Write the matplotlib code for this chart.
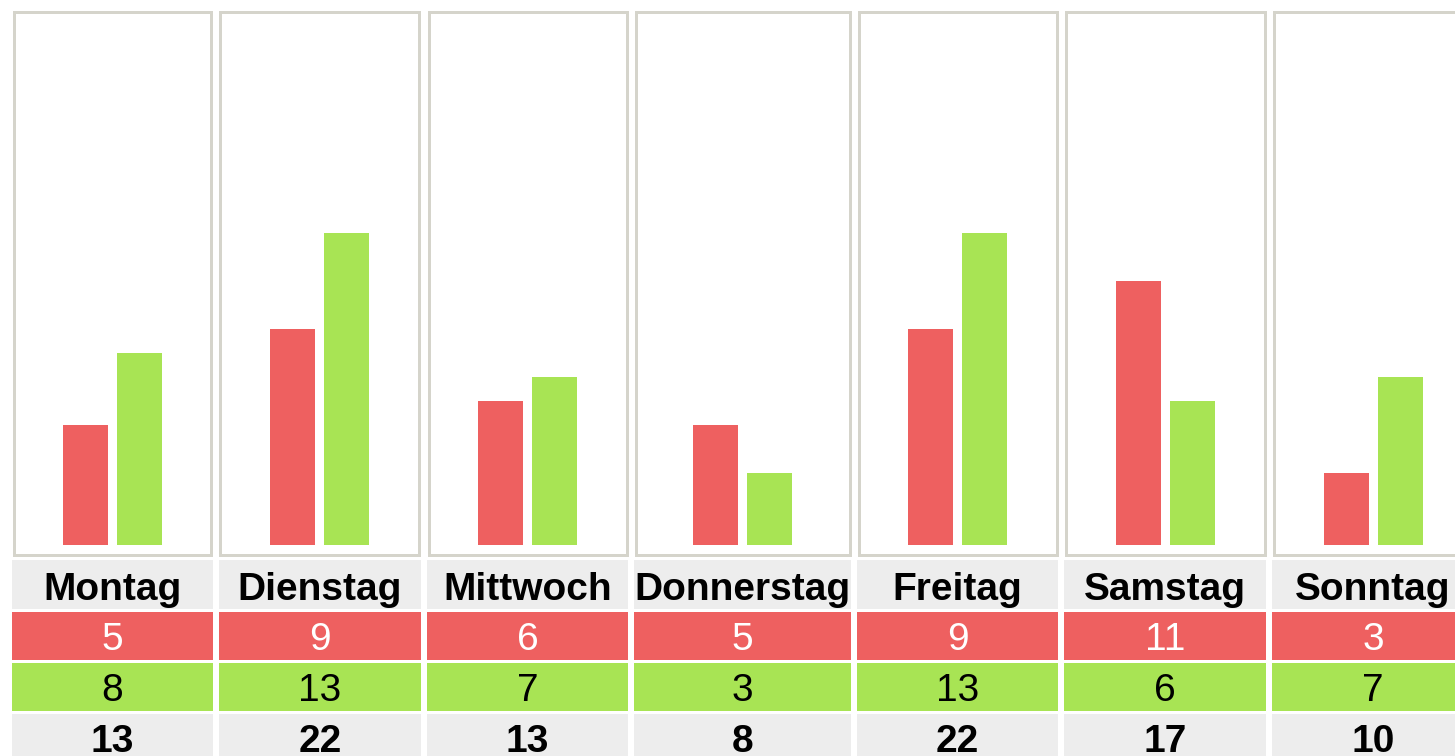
#!/usr/bin/env python3
"""Weekday comparison: small bar panels with a value table below."""

import matplotlib
matplotlib.use("Agg")
import matplotlib.pyplot as plt

# data
days = ["Montag", "Dienstag", "Mittwoch", "Donnerstag", "Freitag", "Samstag", "Sonntag"]
red_values = [5, 9, 6, 5, 9, 11, 3]
green_values = [8, 13, 7, 3, 13, 6, 7]
totals = [13, 22, 13, 8, 22, 17, 10]

# layout (pixels, measured from top-left)
W, H = 1455, 756
col_edges = [(12, 213), (219, 421), (427, 628), (634, 851),
             (857, 1058), (1064, 1266), (1272, 1474)]
panel_top, panel_bottom = 10, 556
border_px = 3
zero_y = 545          # pixel row of the bar baseline
px_per_unit = 24
bar_w, bar_off = 45, 27
# (top, bottom, text baseline) for each table row
rows = [(560, 609, 600), (612, 660, 650), (663, 711, 701), (714, 762, 752)]

RED = "#ee6060"
GREEN = "#a8e454"
GREY = "#ededed"
BORDER = "#d5d4cb"

plt.rcParams["font.family"] = ["Liberation Sans", "DejaVu Sans"]


def px_rect(x0, y0, x1, y1):
    return [x0 / W, 1 - y1 / H, (x1 - x0) / W, (y1 - y0) / H]


fig = plt.figure(figsize=(W / 100, H / 100), dpi=100)
fig.patch.set_facecolor("white")

half = border_px / 2
for i, (x0, x1) in enumerate(col_edges):
    # bar panel
    ax = fig.add_axes(px_rect(x0 + half, panel_top + half, x1 - half, panel_bottom - half))
    w = x1 - x0 - border_px
    ax.bar([-bar_off, bar_off], [red_values[i], green_values[i]],
           width=bar_w, color=[RED, GREEN], linewidth=0)
    ax.set_xlim(-w / 2, w / 2)
    bottom_gap = (panel_bottom - half) - zero_y
    top_gap = zero_y - (panel_top + half)
    ax.set_ylim(-bottom_gap / px_per_unit, top_gap / px_per_unit)
    ax.set_xticks([])
    ax.set_yticks([])
    for sp in ax.spines.values():
        sp.set_color(BORDER)
        sp.set_linewidth(border_px * 72 / 100)

    # table cells
    cells = [
        (days[i], GREY, "black", "bold"),
        (str(red_values[i]), RED, "white", "normal"),
        (str(green_values[i]), GREEN, "black", "normal"),
        (str(totals[i]), GREY, "black", "bold"),
    ]
    for (y0, y1, base), (txt, bg, fg, weight) in zip(rows, cells):
        cax = fig.add_axes(px_rect(x0, y0, x1, y1))
        cax.set_facecolor(bg)
        cax.set_xticks([])
        cax.set_yticks([])
        for sp in cax.spines.values():
            sp.set_visible(False)
        fig.text((x0 + x1) / 2 / W, 1 - base / H, txt, ha="center", va="baseline",
                 fontsize=28, color=fg, fontweight=weight)

fig.savefig("out.png", dpi=100)
